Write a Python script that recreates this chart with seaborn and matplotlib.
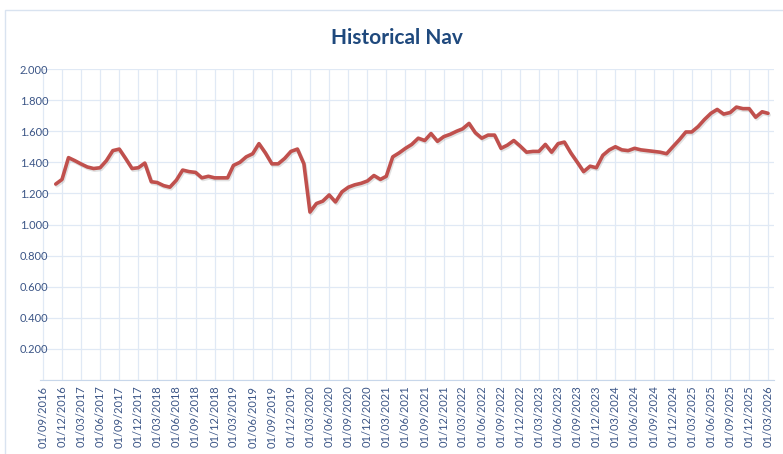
import matplotlib
matplotlib.use('Agg')
import matplotlib.pyplot as plt
import matplotlib.dates as mdates
import matplotlib.patheffects as pe
from matplotlib.patches import Rectangle
import seaborn as sns
import pandas as pd

# monthly NAV, first value is Nov 2016
first_month = '2016-11-01'
nav = [
    1.26, 1.29, 1.43, 1.41, 1.39, 1.37, 1.36, 1.365, 1.41, 1.475,
    1.485, 1.425, 1.36, 1.365, 1.395, 1.275, 1.27, 1.25, 1.24, 1.285,
    1.35, 1.34, 1.335, 1.30, 1.31, 1.30, 1.30, 1.30, 1.38, 1.40,
    1.435, 1.455, 1.52, 1.46, 1.39, 1.39, 1.425, 1.47, 1.485, 1.39,
    1.08, 1.135, 1.15, 1.19, 1.145, 1.21, 1.24, 1.255, 1.265, 1.28,
    1.315, 1.29, 1.31, 1.435, 1.46, 1.49, 1.515, 1.555, 1.54, 1.585,
    1.535, 1.565, 1.58, 1.60, 1.615, 1.65, 1.59, 1.555, 1.575, 1.575,
    1.49, 1.51, 1.54, 1.505, 1.465, 1.47, 1.47, 1.515, 1.465, 1.52,
    1.53, 1.46, 1.40, 1.34, 1.375, 1.365, 1.445, 1.48, 1.50, 1.48,
    1.475, 1.49, 1.48, 1.475, 1.47, 1.465, 1.455, 1.50, 1.545, 1.595,
    1.595, 1.63, 1.675, 1.715, 1.74, 1.71, 1.72, 1.755, 1.745, 1.745,
    1.69, 1.725, 1.715,
]

tick_first = '2016-09-01'
tick_last = '2026-03-01'
y_ticks = [0.0, 0.2, 0.4, 0.6, 0.8, 1.0, 1.2, 1.4, 1.6, 1.8, 2.0]
y_labels = ['-', '0.200', '0.400', '0.600', '0.800', '1.000',
            '1.200', '1.400', '1.600', '1.800', '2.000']

sns.set_style('white')
plt.rcParams['font.family'] = ['Lato', 'DejaVu Sans']

df = pd.DataFrame({'Date': pd.date_range(first_month, periods=len(nav), freq='MS'),
                   'NAV': nav})

W, H = 783, 454
fig = plt.figure(figsize=(W / 100, H / 100), dpi=100)

# light chart-area border
fig.patches.append(Rectangle((5 / W, -0.05), 1.1, 1 - 10 / H + 0.05, transform=fig.transFigure,
                             fill=False, edgecolor='#d9e3f0', linewidth=1))

ax = fig.add_axes([40 / W, 1 - 380 / H, (774 - 40) / W, (380 - 69) / H])

sns.lineplot(data=df, x='Date', y='NAV', ax=ax, color='#c0504d', linewidth=2.6,
             path_effects=[pe.SimpleLineShadow(offset=(0.8, -1.2), shadow_color='#888888', alpha=0.25),
                           pe.Normal()])

# x scale: tick labels centred at 43px and 768px
t0 = mdates.date2num(pd.Timestamp(tick_first))
t1 = mdates.date2num(pd.Timestamp(tick_last))
per_px = (t1 - t0) / (768 - 43)
ax.set_xlim(t0 - 3 * per_px, t1 + 6 * per_px)
ax.set_ylim(0, 2.0)

ticks = pd.date_range(tick_first, tick_last, freq='3MS')
ax.set_xticks(ticks)
ax.set_xticklabels([d.strftime('%d/%m/%Y') for d in ticks], rotation=90,
                   fontsize=8, color='#3b5586')
ax.set_yticks(y_ticks)
ax.set_yticklabels(y_labels, fontsize=8, color='#3b5586')

ax.grid(True, color='#e0e9f5', linewidth=0.9)
ax.tick_params(length=0, axis='x', pad=4)
ax.tick_params(length=0, axis='y', pad=-6)
for side in ['top', 'right', 'left']:
    ax.spines[side].set_visible(False)
ax.spines['bottom'].set_color('#c8d7ea')
ax.set_xlabel('')
ax.set_ylabel('')

fig.text(397 / W, 1 - 38 / H, 'Historical Nav', ha='center', va='center',
         fontsize=15, fontweight='bold', color='#1f497d')

fig.savefig('out.png', dpi=100)
